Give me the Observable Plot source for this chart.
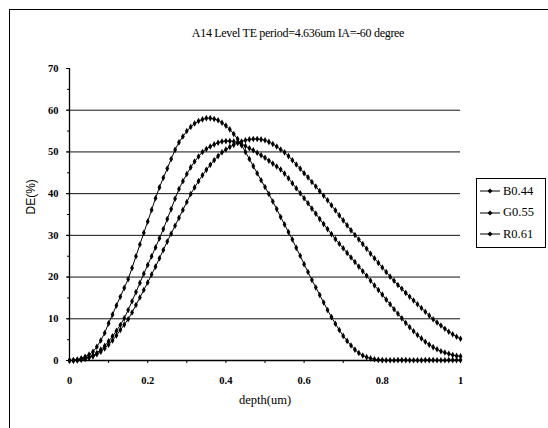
<!DOCTYPE html>
<html><head><meta charset="utf-8">
<script src="https://cdn.jsdelivr.net/npm/d3@7"></script>
<script src="https://cdn.jsdelivr.net/npm/@observablehq/plot@0.6"></script>
<style>
body{margin:0;background:#fff;}
#wrap{position:relative;width:548px;height:428px;overflow:hidden;font-family:"Liberation Serif",serif;color:#000;}
#border{position:absolute;left:9px;top:9px;width:600px;height:600px;border-left:1px solid #000;border-top:1px solid #000;}
#title{position:absolute;left:0;top:26px;width:596px;text-align:center;font-size:12px;letter-spacing:-0.3px;}
#legend{position:absolute;left:476px;top:178px;width:68px;height:68px;border:1px solid #000;background:#fff;font-size:12.5px;}
.li{position:absolute;left:3px;height:14px;display:flex;align-items:center;}
.li span{margin-left:3px;}
#chart{position:absolute;left:0;top:0;}
</style></head><body><div id="wrap"><div id="border"></div><div id="chart"></div><div id="title"></div><div id="legend"></div></div>
<script>
const titleText = "A14 Level TE period=4.636um IA=-60 degree";
const xLabel = "depth(um)";
const yLabel = "DE(%)";
const seriesNames = ["B0.44", "G0.55", "R0.61"];
const xTickValues = [0, 0.2, 0.4, 0.6, 0.8, 1];
const yTickValues = [0, 10, 20, 30, 40, 50, 60, 70];
const gridValues = [10, 20, 30, 40, 50, 60];
const depth = Array.from({length: 101}, (_, i) => i / 100);
const B = [0,0.05,0.2,0.5,0.9,1.4,2.1,3.3,4.8,6.6,
 8.9,11.0,13.2,15.3,17.4,19.5,22.2,25.0,27.8,30.6,
 33.3,36.1,38.9,41.5,43.8,46.0,48.3,50.5,52.3,53.7,
 55.0,56.0,56.8,57.4,57.8,58.1,58.1,57.9,57.6,57.0,
 56.3,55.4,54.3,53.1,51.6,50.0,48.3,46.6,44.9,43.2,
 41.6,39.9,38.1,36.3,34.4,32.6,30.8,29.0,27.0,25.1,
 23.1,21.2,19.3,17.5,15.7,13.9,12.1,10.4,8.8,7.3,
 5.9,4.7,3.6,2.6,1.8,1.2,0.8,0.5,0.3,0.15,
 0.1,0.05,0.05,0.05,0.1,0.1,0.1,0.05,0.05,0.05,
 0.05,0.1,0.1,0.1,0.05,0.05,0.05,0.1,0.1,0.1,0.1];
const G = [0,0.02,0.1,0.3,0.5,0.8,1.2,1.8,2.6,3.5,
 4.6,5.8,7.1,8.5,10.1,12.1,14.2,16.4,18.6,20.8,
 22.9,25.0,27.1,29.3,31.5,33.9,36.3,38.8,41.1,43.0,
 44.7,46.3,47.7,48.9,50.0,50.7,51.3,51.8,52.2,52.5,
 52.6,52.6,52.5,52.2,51.8,51.4,50.9,50.4,49.8,49.2,
 48.6,47.9,47.2,46.5,45.8,44.8,43.7,42.5,41.3,40.1,
 38.9,37.7,36.4,35.2,33.9,32.7,31.5,30.3,29.1,28.0,
 26.9,25.8,24.7,23.6,22.5,21.4,20.3,19.1,18.0,16.9,
 15.8,14.6,13.5,12.3,11.2,10.1,9.0,8.0,7.0,6.1,
 5.3,4.5,3.8,3.2,2.7,2.2,1.9,1.6,1.3,1.1,1.0];
const R = [0,0.02,0.08,0.2,0.4,0.7,1.0,1.5,2.1,2.9,
 3.8,4.8,6.0,7.3,8.6,9.9,11.5,13.3,15.1,16.9,
 18.7,20.6,22.5,24.5,26.5,28.5,30.4,32.3,34.2,36.1,
 38.0,39.9,41.5,43.0,44.4,45.7,46.9,48.0,49.0,49.9,
 50.6,51.2,51.7,52.2,52.5,52.8,53.0,53.1,53.1,53.0,
 52.8,52.4,51.9,51.3,50.6,49.9,49.0,48.0,47.0,46.0,
 44.9,43.9,42.8,41.7,40.6,39.5,38.4,37.2,36.0,34.8,
 33.6,32.4,31.2,30.1,29.0,27.9,26.8,25.6,24.5,23.4,
 22.3,21.2,20.1,19.1,18.1,17.2,16.2,15.3,14.4,13.5,
 12.6,11.7,10.8,9.9,9.1,8.4,7.6,6.9,6.3,5.7,5.2];

const series = [B, G, R];
const data = series.flatMap((vals, s) => vals.map((v, i) => ({name: seriesNames[s], x: depth[i], y: v})));
const xMinor = d3.range(0, 1.0001, 0.1);
const yMinor = d3.range(0, 70.001, 5);

const chart = Plot.plot({
  width: 548, height: 428,
  marginLeft: 69, marginRight: 88, marginTop: 68, marginBottom: 68,
  x: {domain: [0, 1]},
  y: {domain: [0, 70]},
  style: {fontFamily: "Liberation Serif, serif", fontSize: "10.5px", background: "transparent", color: "#000"},
  marks: [
    Plot.ruleY(gridValues, {stroke: "#111", strokeWidth: 1}),
    Plot.ruleX([0], {y1: 0, y2: 70, stroke: "#000", strokeWidth: 1.3}),
    Plot.ruleY([0], {stroke: "#000", strokeWidth: 1.3}),
    Plot.axisY({ticks: yMinor, tickSize: 2, tickFormat: () => "", label: null}),
    Plot.axisY({ticks: yTickValues, tickSize: 3, tickPadding: 8, label: null, fontWeight: "bold"}),
    Plot.axisX({ticks: xMinor, tickSize: 3, tickFormat: () => "", label: null}),
    Plot.axisX({ticks: xTickValues, tickSize: 0, tickPadding: 16, label: null, fontWeight: "bold", tickFormat: d => String(d)}),
    Plot.text([xLabel], {frameAnchor: "bottom", dy: 43, fontSize: 12.5, fontFamily: "Liberation Serif"}),
    Plot.text([yLabel], {frameAnchor: "left", dx: -38, rotate: -90, fontSize: 12, fontFamily: "Liberation Sans"}),
    Plot.line(data, {x: "x", y: "y", z: "name", stroke: "#000", strokeWidth: 1}),
    Plot.dot(data, {x: "x", y: "y", symbol: "diamond", r: 2, fill: "#000", stroke: "none"})
  ]
});
document.getElementById("chart").appendChild(chart);
document.getElementById("title").textContent = titleText;
const leg = document.getElementById("legend");
seriesNames.forEach((n, i) => {
  const d = document.createElement("div");
  d.className = "li";
  d.style.top = (5 + i * 21.5) + "px";
  d.innerHTML = `<svg width="20" height="8"><line x1="0" y1="4" x2="20" y2="4" stroke="#000" stroke-width="1"/><path d="M10,1.5L12.5,4L10,6.5L7.5,4Z" fill="#000"/></svg><span>${n}</span>`;
  leg.appendChild(d);
});
</script></body></html>
